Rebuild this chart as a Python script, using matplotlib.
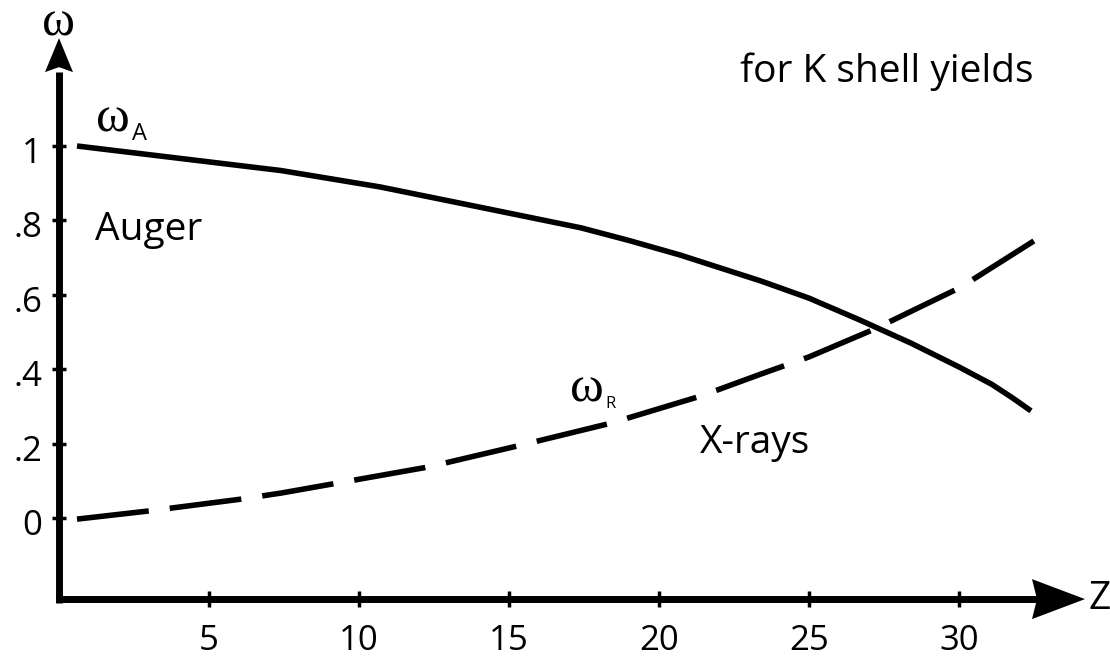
import matplotlib
matplotlib.use('Agg')
import matplotlib.pyplot as plt
from matplotlib.patches import Polygon

plt.rcParams['font.family'] = ['Open Sans', 'DejaVu Sans']

# K shell yields against atomic number Z
z_auger = [0.6, 4.0, 7.4, 10.7, 14.0, 17.4, 19.0, 20.7, 23.4, 25.0, 26.7, 28.4, 30.0, 31.1, 31.8, 32.4]
w_auger = [1.000, 0.967, 0.934, 0.890, 0.836, 0.780, 0.746, 0.707, 0.637, 0.591, 0.532, 0.470,
           0.406, 0.359, 0.322, 0.288]

z_xray = [0.6, 3.0, 6.0, 7.4, 12.3, 15.3, 18.4, 21.4, 23.4, 25.0, 27.1, 27.8, 30.0, 30.6, 32.5]
w_xray = [-0.003, 0.019, 0.050, 0.067, 0.137, 0.194, 0.255, 0.328, 0.387, 0.433, 0.505,
          0.532, 0.618, 0.648, 0.745]

z_ticks = [5, 10, 15, 20, 25, 30]
z_tick_labels = ['5', '10', '15', '20', '25', '30']
w_ticks = [1.0, 0.8, 0.6, 0.4, 0.2, 0.0]
w_tick_labels = ['1', '.8', '.6', '.4', '.2', '0']

# pixels per data unit, used to size the hand-drawn axes
PX_Z = 30.0
PX_W = 372.0


def dz(px):
    return px / PX_Z


def dw(px):
    return px / PX_W


W_AXIS = -0.218

fig = plt.figure(figsize=(11.1, 6.58), dpi=100)
ax = fig.add_axes([0, 0, 1, 1])
ax.set_xlim(-59 / PX_Z, (1110 - 59) / PX_Z)
ax.set_ylim((518 - 658) / PX_W, 518 / PX_W)
ax.axis('off')

# axes with arrowheads
ax.plot([0, 0], [W_AXIS - dw(3.5), 1.20], color='k', lw=5, solid_capstyle='butt')
ax.plot([-dz(3.5), 32.6], [W_AXIS, W_AXIS], color='k', lw=5, solid_capstyle='butt')

y_tip = 1.29
ax.add_patch(Polygon([(0, y_tip), (dz(14), y_tip - dw(34)), (0, y_tip - dw(29)),
                      (-dz(14), y_tip - dw(34))], closed=True, color='k', lw=0))
x_tip = 34.2
ax.add_patch(Polygon([(x_tip, W_AXIS), (x_tip - dz(53), W_AXIS + dw(20)),
                      (x_tip - dz(48), W_AXIS), (x_tip - dz(53), W_AXIS - dw(20))],
                     closed=True, color='k', lw=0))

# tick marks
ax.plot(z_ticks, [W_AXIS] * len(z_ticks), ls='none', marker='|', ms=11, mew=2.5, color='k')
ax.plot([0] * len(w_ticks), w_ticks, ls='none', marker='_', ms=10, mew=2.5, color='k')

for z, lab in zip(z_ticks, z_tick_labels):
    ax.text(z, W_AXIS - dw(51), lab, fontsize=25, ha='center', va='baseline')
for w, lab in zip(w_ticks, w_tick_labels):
    ax.text(-dz(17), w - dw(17), lab, fontsize=25, ha='right', va='baseline')

# curves
ax.plot(z_auger, w_auger, color='k', lw=4, solid_capstyle='butt')
ax.plot(z_xray, w_xray, color='k', lw=4, dashes=(13, 3.8))

# labels
serif = ['Liberation Serif', 'DejaVu Serif']
ax.text(0, 1.331, 'ω', family=serif, fontsize=36, ha='center', va='center')
ax.text(34.3, W_AXIS, 'Z', fontsize=28, ha='left', va='center')

ax.text(1.25, 1.038, 'ω', family=serif, fontsize=37, ha='left', va='baseline')
ax.text(2.42, 1.016, 'A', fontsize=17, ha='left', va='baseline')
ax.text(17.05, 0.312, 'ω', family=serif, fontsize=37, ha='left', va='baseline')
ax.text(18.22, 0.296, 'R', fontsize=12, ha='left', va='baseline')

ax.text(1.2, 0.747, 'Auger', fontsize=28, ha='left', va='baseline')
ax.text(21.37, 0.175, 'X-rays', fontsize=28, ha='left', va='baseline')
ax.text(22.7, 1.172, 'for K shell yields', fontsize=28, ha='left', va='baseline')

fig.savefig('out.png', dpi=100)
